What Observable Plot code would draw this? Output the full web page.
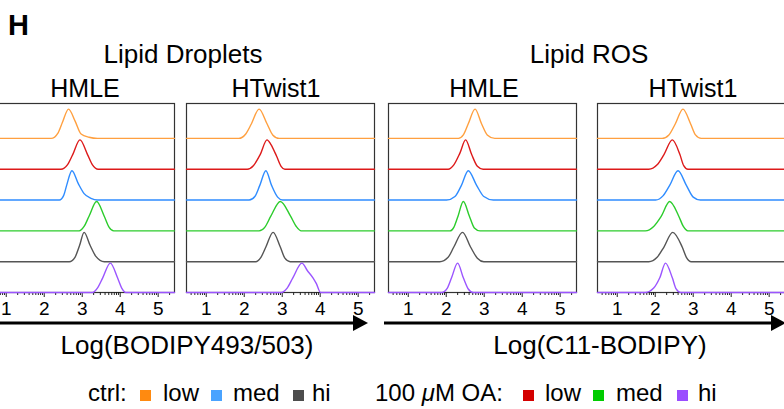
<!DOCTYPE html>
<html><head><meta charset="utf-8">
<script src="https://cdn.jsdelivr.net/npm/d3@7"></script>
<script src="https://cdn.jsdelivr.net/npm/@observablehq/plot@0.6"></script>
<style>
body{margin:0;background:#fff;font-family:"Liberation Sans",Arial,Helvetica,sans-serif;}
#root{position:relative;width:784px;height:409px;overflow:hidden;background:#fff;}
.panel{position:absolute;}
#overlay{position:absolute;left:0;top:0;pointer-events:none;}
</style></head><body><div id="root"></div>
<script>
// ---------- data ----------
const series = ["ctrl low", "OA low", "ctrl med", "OA med", "ctrl hi", "OA hi"];
const lineColors = ["#ffa040", "#dd1a1a", "#2f8cff", "#2ccc2c", "#555555", "#9b55ff"];
const legendColors = ["#ff8a10", "#4aa3ff", "#4d4d4d", "#d40000", "#00cc00", "#9a4dff"];
const groups = ["Lipid Droplets", "Lipid ROS"];
const cellLines = ["HMLE", "HTwist1"];
const axisTitles = ["Log(BODIPY493/503)", "Log(C11-BODIPY)"];
const tickLabels = [1, 2, 3, 4, 5];
const xDomain = [0.48, 5.43];

// log10 fluorescence (x) and % of mode (y), one list per series, top row first
const ldHMLE_x = [
  [2.18, 2.37, 2.48, 2.64, 2.81, 2.97, 3.18, 3.40],
  [2.44, 2.61, 2.75, 2.94, 3.14, 3.27, 3.42],
  [2.40, 2.51, 2.59, 2.73, 2.90, 3.05, 3.23, 3.40],
  [2.92, 3.05, 3.18, 3.38, 3.58, 3.71, 3.83],
  [2.66, 2.81, 2.93, 3.05, 3.21, 3.36, 3.58],
  [3.27, 3.40, 3.54, 3.74, 3.93, 4.04, 4.15]
];
const ldHMLE_y = [
  [0, 20, 55, 100, 60, 15, 4, 0],
  [0, 15, 50, 100, 50, 15, 0],
  [0, 15, 50, 100, 55, 22, 6, 0],
  [0, 15, 50, 100, 50, 12, 0],
  [0, 15, 55, 100, 55, 18, 0],
  [0, 15, 50, 100, 50, 15, 0]
];
const ldHTwist_x = [
  [1.86, 2.04, 2.19, 2.39, 2.60, 2.75, 2.92],
  [2.08, 2.24, 2.42, 2.60, 2.70, 2.85, 2.97, 3.07],
  [2.13, 2.28, 2.41, 2.57, 2.72, 2.88, 3.01],
  [2.39, 2.54, 2.70, 2.95, 3.22, 3.37, 3.50],
  [2.30, 2.44, 2.57, 2.76, 2.95, 3.07, 3.21],
  [2.97, 3.13, 3.28, 3.52, 3.66, 3.81, 3.90, 4.01]
];
const ldHTwist_y = [
  [0, 15, 50, 100, 50, 12, 0],
  [0, 12, 50, 100, 85, 45, 10, 0],
  [0, 12, 50, 100, 50, 10, 0],
  [0, 12, 50, 100, 50, 15, 0],
  [0, 15, 50, 100, 50, 12, 0],
  [0, 15, 50, 100, 75, 50, 30, 0]
];
const rosHMLE_x = [
  [2.32, 2.45, 2.58, 2.76, 2.93, 3.08, 3.28],
  [2.05, 2.20, 2.36, 2.51, 2.67, 2.82, 2.97],
  [2.01, 2.23, 2.40, 2.58, 2.80, 2.99, 3.24],
  [2.10, 2.20, 2.31, 2.45, 2.61, 2.74, 2.89],
  [1.83, 2.05, 2.20, 2.43, 2.64, 2.82, 2.99],
  [1.88, 2.03, 2.14, 2.30, 2.45, 2.58, 2.71]
];
const rosHMLE_y = [
  [0, 12, 50, 100, 50, 12, 0],
  [0, 15, 55, 100, 50, 10, 0],
  [0, 12, 50, 100, 50, 12, 0],
  [0, 12, 50, 100, 50, 10, 0],
  [0, 15, 50, 100, 50, 12, 0],
  [0, 15, 50, 100, 50, 12, 0]
];
const rosHTwist_x = [
  [2.18, 2.36, 2.53, 2.73, 2.93, 3.06, 3.21],
  [1.83, 2.05, 2.23, 2.45, 2.65, 2.75, 2.86],
  [2.01, 2.21, 2.38, 2.60, 2.82, 3.00, 3.19],
  [1.74, 1.96, 2.16, 2.38, 2.62, 2.74, 2.86],
  [1.83, 2.05, 2.23, 2.46, 2.71, 2.82, 2.95],
  [1.74, 1.96, 2.12, 2.27, 2.45, 2.55, 2.67]
];
const rosHTwist_y = [
  [0, 12, 50, 100, 50, 12, 0],
  [0, 15, 50, 100, 50, 12, 0],
  [0, 15, 50, 100, 50, 10, 0],
  [0, 15, 50, 100, 50, 15, 0],
  [0, 15, 50, 100, 50, 15, 0],
  [0, 15, 50, 100, 50, 12, 0]
];

// ---------- layout ----------
const W = 784, H = 409;
const panelLefts = [-14, 186, 388, 597];
const panelW = 188, plotTop = 103, plotH = 189;
const rowStep = 105;           // y units per ridge row (peak = 100)
const yMax = 644;

const panels = [
  [ldHMLE_x, ldHMLE_y], [ldHTwist_x, ldHTwist_y],
  [rosHMLE_x, rosHMLE_y], [rosHTwist_x, rosHTwist_y]
];

const minorTicks = [];
for (let n = 0; n <= 5; n++) for (let k = 2; k <= 9; k++) {
  const v = n + Math.log10(k);
  if (v >= xDomain[0] && v <= xDomain[1]) minorTicks.push(v);
}

const root = document.getElementById("root");

panels.forEach(([xs, ys], p) => {
  const rows = [];
  series.forEach((s, i) => {
    const off = (series.length - 1 - i) * rowStep;
    rows.push({s, x: xDomain[0], y: off});
    xs[i].forEach((xv, j) => rows.push({s, x: xv, y: off + ys[i][j]}));
    rows.push({s, x: xDomain[1], y: off});
  });
  const mt = 1, mb = 30;
  const chart = Plot.plot({
    width: panelW + 2, height: plotH + mt + mb,
    marginLeft: 1, marginRight: 1, marginTop: mt, marginBottom: mb,
    style: {fontFamily: '"Liberation Sans", Arial, Helvetica, sans-serif', background: "transparent", overflow: "visible"},
    x: {domain: xDomain, axis: null},
    y: {domain: [0, yMax], axis: null},
    color: {domain: series, range: lineColors},
    marks: [
      Plot.frame({stroke: "#333", strokeWidth: 1.2}),
      Plot.axisX(minorTicks, {anchor: "bottom", tickSize: 3, tickFormat: () => "", label: null, stroke: "#222"}),
      Plot.axisX(tickLabels, {anchor: "bottom", tickSize: 5, tickPadding: 4, fontSize: 19, label: null, stroke: "#222", fill: "#000", tickFormat: d => String(d)}),
      Plot.line(rows, {x: "x", y: "y", z: "s", stroke: "s", strokeWidth: 1.4, curve: "monotone-x"})
    ]
  });
  chart.classList.add("panel");
  chart.style.left = (panelLefts[p] - 1) + "px";
  chart.style.top = (plotTop - mt) + "px";
  root.appendChild(chart);
});

// ---------- overlay: titles, arrows, legend ----------
const svg = d3.select(root).append("svg").attr("id", "overlay").attr("width", W).attr("height", H)
  .style("font-family", '"Liberation Sans", Arial, Helvetica, sans-serif');
svg.append("text").attr("x", 8).attr("y", 35).attr("font-size", 29).attr("font-weight", "bold").text("H");
const groupX = [183, 589], cellX = [85, 276, 484, 693], axisX = [187, 600];
groups.forEach((g, i) => svg.append("text").attr("x", groupX[i]).attr("y", 63).attr("text-anchor", "middle").attr("font-size", 26).text(g));
cellX.forEach((x, i) => svg.append("text").attr("x", x).attr("y", 97).attr("text-anchor", "middle").attr("font-size", 25).text(cellLines[i % 2]));
axisTitles.forEach((t, i) => svg.append("text").attr("x", axisX[i]).attr("y", 354).attr("text-anchor", "middle").attr("font-size", 26).text(t));
// arrows
[[0, 368], [384, 786]].forEach(([a, b]) => {
  svg.append("line").attr("x1", a).attr("x2", b - 12).attr("y1", 323).attr("y2", 323).attr("stroke", "#000").attr("stroke-width", 3);
  svg.append("path").attr("d", `M${b - 15},315 L${b},323 L${b - 15},331 Z`).attr("fill", "#000");
});
// legend
const lg = svg.append("g").attr("font-size", 24);
const ly = 401;
const txt = (x, s) => lg.append("text").attr("x", x).attr("y", ly).text(s);
const sq = (x, c) => lg.append("rect").attr("x", x).attr("y", ly - 11).attr("width", 11).attr("height", 11).attr("fill", c);
txt(88, "ctrl:");
const levels = ["low", "med", "hi"];
[[140, 163], [211, 233], [293, 312]].forEach(([sx, tx], i) => { sq(sx, legendColors[i]); txt(tx, levels[i]); });
const oa = lg.append("text").attr("x", 375).attr("y", ly);
oa.append("tspan").text("100 ");
oa.append("tspan").attr("font-style", "italic").text("\u03bc");
oa.append("tspan").text("M OA:");
[[523, 545], [593, 616], [677, 698]].forEach(([sx, tx], i) => { sq(sx, legendColors[i + 3]); txt(tx, levels[i]); });
</script>
</body></html>
